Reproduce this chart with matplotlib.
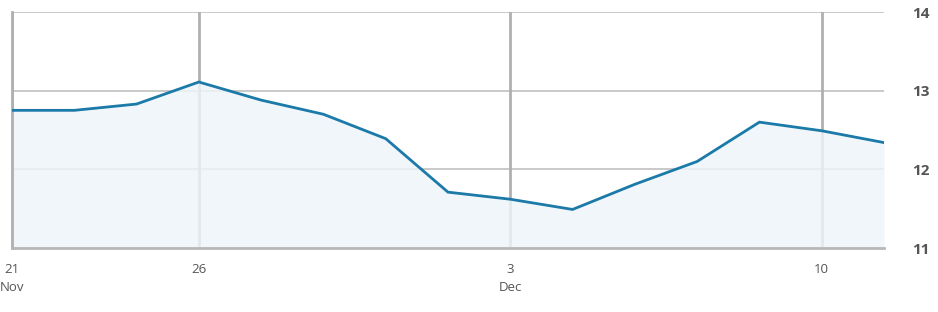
import numpy as np
import matplotlib
matplotlib.use("Agg")
import matplotlib.pyplot as plt

# trading days, positions on an index axis
days = ["Nov 21", "Nov 22", "Nov 23", "Nov 26", "Nov 27", "Nov 28", "Nov 29", "Nov 30",
        "Dec 3", "Dec 4", "Dec 5", "Dec 6", "Dec 7", "Dec 10", "Dec 11"]
values = [12.75, 12.75, 12.83, 13.11, 12.88, 12.70, 12.39, 11.71,
          11.62, 11.49, 11.81, 12.10, 12.60, 12.49, 12.34]
tick_days = ["Nov 21", "Nov 26", "Dec 3", "Dec 10"]
tick_labels = ["21\nNov", "26", "3\nDec", "10"]
y_ticks = [11, 12, 13, 14]

plt.rcParams['font.family'] = ['Open Sans', 'DejaVu Sans']

x = np.arange(len(days))
tick_pos = [days.index(d) for d in tick_days]

fig = plt.figure(figsize=(9.38, 3.12), dpi=100)
ax = fig.add_axes([12/938, 1-248/312, (884-12)/938, (248-12)/312])

line_col = "#1b7aa8"
grid_col = "#bbbbbb"

ax.set_xlim(x[0], x[-1])
ax.set_ylim(11, 14)

for yv in y_ticks:
    ax.axhline(yv, color=grid_col, lw=1.1, zorder=1)
for p in tick_pos:
    ax.axvline(p, color="#b0b0b0", lw=2, zorder=1)

ax.fill_between(x, values, 11, color="#eef5fa", alpha=0.82, lw=0, zorder=2)
ax.plot(x, values, color=line_col, lw=2, zorder=3, solid_joinstyle="miter")

for s in ["top", "right"]:
    ax.spines[s].set_visible(False)
ax.spines["left"].set_color("#b0b0b0")
ax.spines["left"].set_linewidth(2)
ax.spines["bottom"].set_color("#b8b8b8")
ax.spines["bottom"].set_linewidth(2)

ax.set_xticks(tick_pos)
ax.set_xticklabels(tick_labels, fontsize=9.5, color="#555555", linespacing=1.45)
ax.tick_params(axis="x", length=0, pad=11)

ax.yaxis.tick_right()
ax.set_yticks(y_ticks)
ax.set_yticklabels([str(v) for v in y_ticks], fontsize=11, fontweight="bold", color="#555555")
ax.tick_params(axis="y", length=0, pad=20)

fig.savefig("out.png", dpi=100)
